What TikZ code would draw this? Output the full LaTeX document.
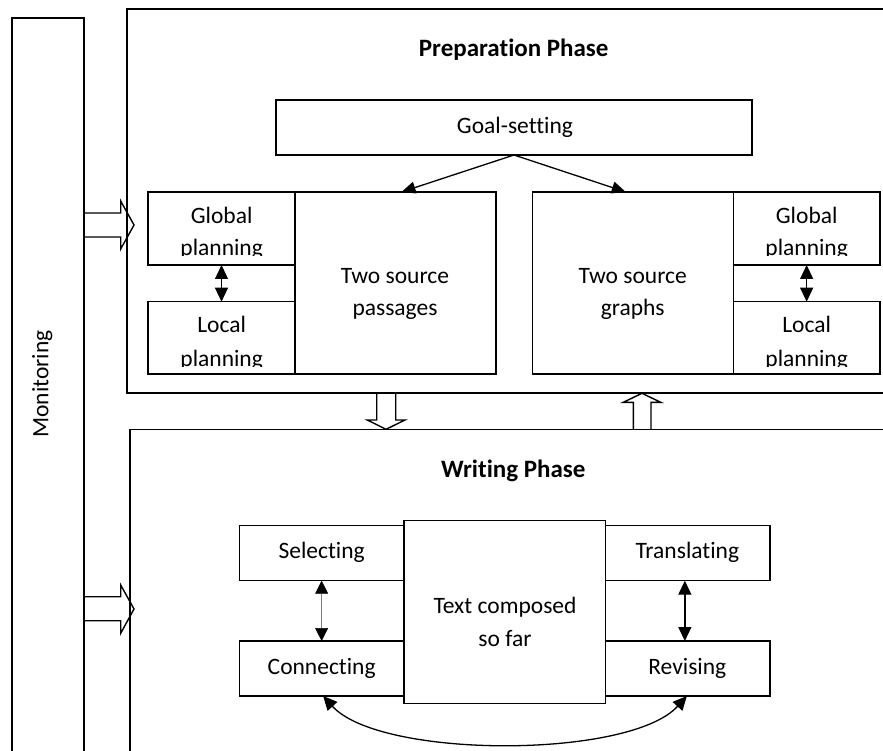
\documentclass[tikz,border=0pt]{standalone}
\usepackage{fontspec}
\setmainfont{Carlito}[Ligatures={NoCommon}]
\usetikzlibrary{arrows.meta,calc}
\begin{document}
\begin{tikzpicture}[x=1pt,y=-1pt,
  outer/.style={draw, line width=1.5pt, inner sep=0pt, outer sep=0pt},
  box/.style={draw, line width=1.3pt, inner sep=0pt, outer sep=0pt},
  txt/.style={inner sep=0pt, anchor=base, font=\fontsize{23.5}{32}\selectfont},
  ttl/.style={inner sep=0pt, anchor=base, font=\fontsize{25}{32}\selectfont\bfseries},
  tipa/.style={-{Triangle[length=14pt,width=12pt]}, line width=1.3pt},
  dbl/.style={{Triangle[length=14pt,width=13pt]}-{Triangle[length=14pt,width=13pt]}, line width=1.3pt},
  thindbl/.style={{Triangle[length=13pt,width=13pt,color=black]}-{Triangle[length=13pt,width=13pt,color=black]}, line width=0.6pt, draw=gray},
  blk/.style={draw, fill=white, line width=1.4pt, line join=miter}
]
\useasboundingbox (0,0) rectangle (883,751);
\clip (0,0) rectangle (883,751);

% block arrows (drawn first so box edges overlay them)
\draw[blk] (84,213) -- (120.7,213) -- (120.7,201) -- (134,225) -- (120.7,249) -- (120.7,237) -- (84,237);
\draw[blk] (84,596.7) -- (120.7,596.7) -- (120.7,585) -- (134,609) -- (120.7,633.3) -- (120.7,620.7) -- (84,620.7);
\draw[blk] (376.7,393) -- (376.7,420) -- (367.3,420) -- (386,429.3) -- (405,420) -- (395.7,420) -- (395.7,393);
\draw[blk] (633.3,429.3) -- (633.3,402.3) -- (623.3,402.3) -- (642,393.3) -- (660.7,402.3) -- (651,402.3) -- (651,429.3);

% outer boxes
\node[outer, minimum width=72pt, minimum height=742pt] (mon) at (48,389) {};
\node[outer, minimum width=773pt, minimum height=384pt] (prep) at (513.5,201) {};
\node[outer, minimum width=770pt, minimum height=330.7pt] (wri) at (515,594.65) {};

\node[txt, rotate=90] (montxt) at (48.3,384) {Monitoring};
\node[ttl] (preptxt) at (513.7,56.7) {Preparation Phase};
\node[ttl] (writxt) at (513.3,477.7) {Writing Phase};

% preparation phase boxes
\node[box, minimum width=476pt, minimum height=55pt] (goal) at (514,127.5) {};
\node[txt] (goaltxt) at (515,133.3) {Goal-setting};

\node[box, minimum width=147pt, minimum height=73pt] (gpl) at (221.5,228.5) {};
\node[box, minimum width=147pt, minimum height=72.3pt] (lpl) at (221.5,337.85) {};
\node[box, minimum width=201pt, minimum height=182pt] (pas) at (395.5,283) {};
\node[box, minimum width=201pt, minimum height=182pt] (gra) at (632.8,283) {};
\node[box, minimum width=146.7pt, minimum height=73pt] (gpr) at (806.65,228.5) {};
\node[box, minimum width=146.7pt, minimum height=72.3pt] (lpr) at (806.65,337.85) {};

\node[txt] (pas1) at (395,283.3) {Two source};
\node[txt] (pas2) at (395,315.7) {passages};
\node[txt] (gra1) at (632.7,283.3) {Two source};
\node[txt] (gra2) at (632.7,315.7) {graphs};

\begin{scope}
  \clip (148,192) rectangle (295,256);
  \node[txt] (gpl1) at (221.7,223.3) {Global};
  \node[txt] (gpl2) at (221.7,256) {planning};
\end{scope}
\begin{scope}
  \clip (148,302) rectangle (295,366);
  \node[txt] (lpl1) at (221.7,332.7) {Local};
  \node[txt] (lpl2) at (221.7,366) {planning};
\end{scope}
\begin{scope}
  \clip (733,192) rectangle (880,256);
  \node[txt] (gpr1) at (806.7,223.3) {Global};
  \node[txt] (gpr2) at (806.7,256) {planning};
\end{scope}
\begin{scope}
  \clip (733,302) rectangle (880,366);
  \node[txt] (lpr1) at (806.7,332.7) {Local};
  \node[txt] (lpr2) at (806.7,366) {planning};
\end{scope}

\draw[tipa] (goal.south) -- ([xshift=6pt]pas.north);
\draw[tipa] (goal.south) -- ([xshift=-7pt]gra.north);
\draw[dbl] (gpl.south) -- (lpl.north);
\draw[dbl] (gpr.south) -- (lpr.north);

% writing phase boxes
\node[box, minimum width=164.7pt, minimum height=55pt] (sel) at (321.65,553.2) {};
\node[box, minimum width=164.7pt, minimum height=55pt] (con) at (321.65,668.5) {};
\node[box, minimum width=201.7pt, minimum height=182.6pt] (txc) at (504.85,612) {};
\node[box, minimum width=164.3pt, minimum height=55pt] (tra) at (687.85,553.2) {};
\node[box, minimum width=164.3pt, minimum height=55pt] (rev) at (687.85,668.5) {};

\node[txt] (seltxt) at (321.7,558.3) {Selecting};
\node[txt] (contxt) at (321.7,674) {Connecting};
\node[txt] (tratxt) at (687.3,558.3) {Translating};
\node[txt] (revtxt) at (687.3,674) {Revising};
\node[txt] (txc1) at (505,613.3) {Text composed};
\node[txt] (txc2) at (505,646) {so far};

\draw[thindbl] (sel.south) -- (con.north);
\draw[dbl] ([xshift=-3pt]tra.south) -- ([xshift=-3pt]rev.north);
\draw[dbl] ([xshift=1.5pt]con.south) .. controls (380,759) and (630,759) .. ([xshift=-1pt]rev.south);
\end{tikzpicture}
\end{document}
